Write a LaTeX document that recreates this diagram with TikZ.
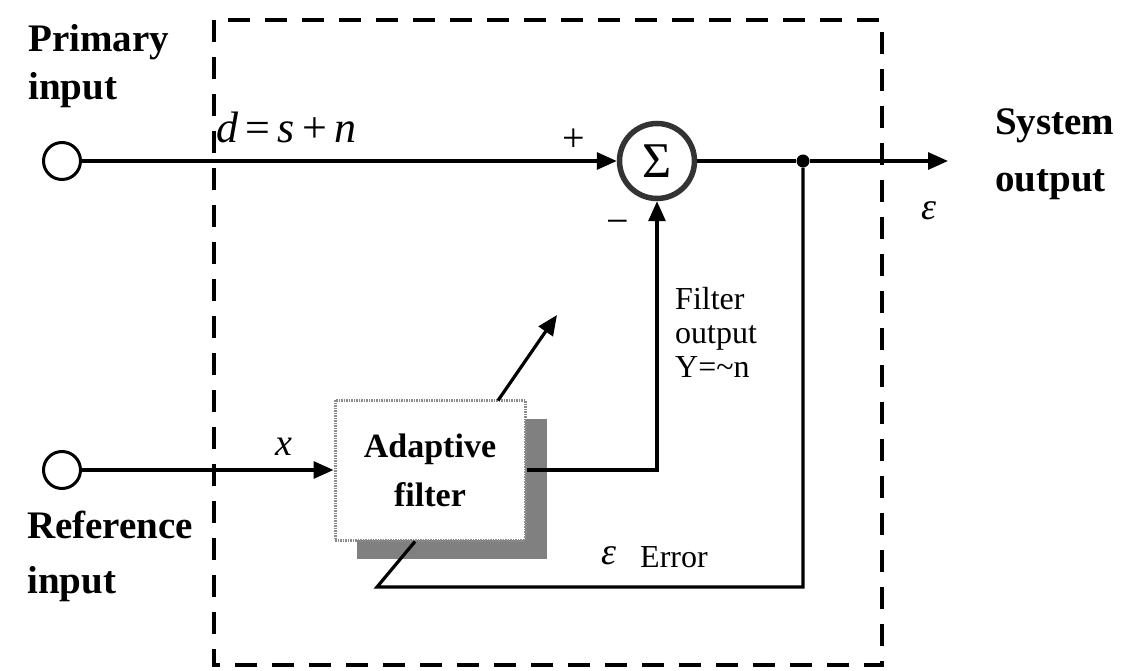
\documentclass[tikz,border=0pt]{standalone}
\usepackage{fontspec}
\setmainfont{Liberation Serif}
\usetikzlibrary{arrows.meta}
\begin{document}
\begin{tikzpicture}[x=1pt,y=-1pt,
  wire/.style={line width=3.2pt},
  arr/.style={wire,-{Triangle[length=20pt,width=17pt]}},
  pin/.style={circle,draw,line width=3pt,minimum size=37pt,inner sep=0pt},
  blab/.style={font=\fontsize{39}{44}\selectfont\bfseries,anchor=base west,inner sep=0pt},
  mlab/.style={font=\fontsize{44}{48}\selectfont\itshape,anchor=base west,inner sep=0pt},
  slab/.style={font=\fontsize{32}{34}\selectfont,anchor=base west,inner sep=0pt,align=left},
  sumnode/.style={circle,draw=black!80,line width=5.5pt,minimum size=75pt,inner sep=0pt,
     font=\fontsize{50}{50}\selectfont},
  frontbox/.style={draw=black!45,line width=3pt,dash pattern=on 1.5pt off 1pt,fill=white,
     minimum width=190pt,minimum height=140pt,inner sep=0pt,align=center,
     font=\fontsize{34}{49}\selectfont\bfseries},
  shadowbox/.style={fill=black!50,minimum width=190pt,minimum height=140pt,inner sep=0pt},
  frame/.style={line width=4.5pt,dash pattern=on 22pt off 15pt},
  junction/.style={circle,fill,inner sep=0pt,minimum size=13pt}
]
\useasboundingbox (0,0) rectangle (1135,671);

% dashed system boundary
\draw[frame] (214,20) rectangle (882,665);

% input terminals
\node[pin] (p1) at (62,161) {};
\node[pin] (p2) at (62,470) {};

% summing junction
\node[sumnode] (sum) at (657,161) {Σ};

% adaptive filter with shadow
\node[shadowbox] (shad) at (452,489) {};
\node[frontbox] (filt) at (430,470) {Adaptive\\filter};

% junction and output
\node[junction] (jn) at (803,161) {};
\coordinate (out) at (948,161);
\coordinate (fb) at (377,587);
\coordinate (adj) at (557,315);

% connectors
\draw[arr] (p1) -- (sum);
\draw[wire] (sum) -- (jn);
\draw[arr] (jn) -- (out);
\draw[arr] (p2) -- (filt);
\draw[arr] (filt.east) -| (sum.south);
\draw[wire] (jn) |- (fb) -- ([xshift=-15pt]filt.south);
\draw[arr] ([xshift=68pt,yshift=-2pt]filt.north) -- (adj);

% labels
\node[blab] (lp1) at (28,52) {Primary};
\node[blab] (lp2) at (28,100) {input};
\node[blab] (lr1) at (27,538) {Reference};
\node[blab] (lr2) at (27,593) {input};
\node[blab] (ls1) at (995,135) {System};
\node[blab] (ls2) at (995,192) {output};

\node[mlab] (dsn) at (216,143) {d\,{\upshape =}\,s\,{\upshape +}\,n};
\node[font=\fontsize{40}{40}\selectfont,anchor=base,inner sep=0pt] (plus) at (574,152) {+};
\node[font=\fontsize{40}{40}\selectfont,anchor=base,inner sep=0pt] (minus) at (618,234) {\char"2212};
\node[font=\fontsize{38}{38}\selectfont\itshape,anchor=base west,inner sep=0pt] (xl) at (275,455) {x};
\node[font=\fontsize{38}{38}\selectfont\itshape,anchor=base west,inner sep=0pt] (eps1) at (921,220) {ε};
\node[font=\fontsize{38}{38}\selectfont\itshape,anchor=base west,inner sep=0pt] (eps2) at (601,564) {ε};
\node[slab] (err) at (640,567) {Error};
\node[slab] (fo) at (675,377) {Filter\\output\\Y=\textasciitilde n};
\end{tikzpicture}
\end{document}
